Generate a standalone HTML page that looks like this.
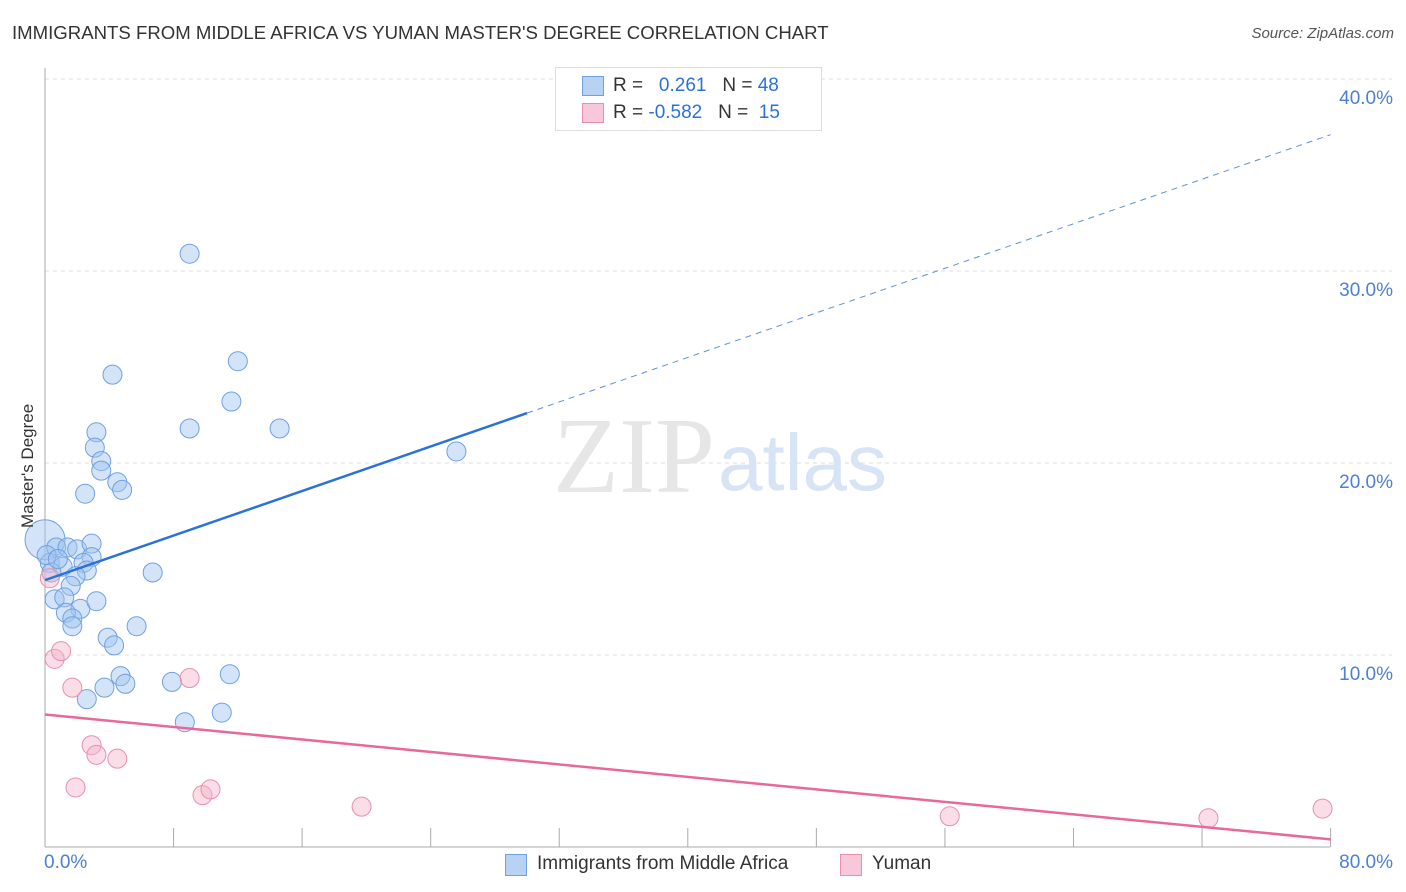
<!DOCTYPE html>
<html><head><meta charset="utf-8"><style>
body{margin:0;background:#fff;font-family:"Liberation Sans",sans-serif;}
#wrap{position:relative;width:1406px;height:892px;overflow:hidden}
.t{position:absolute;white-space:nowrap}
</style></head><body><div id="wrap">
<div class="t" style="left:12px;top:22px;font-size:18.6px;color:#333">IMMIGRANTS FROM MIDDLE AFRICA VS YUMAN MASTER'S DEGREE CORRELATION CHART</div>
<div class="t" style="right:12px;top:25px;font-size:15px;color:#555;font-style:italic">Source: ZipAtlas.com</div>
<svg id="svg" width="1406" height="892" style="position:absolute;left:0;top:0"></svg>
</div>
<script>
const blueX=[9.0,4.2,12.0,11.6,9.0,14.6,25.6,3.2,3.1,3.5,3.5,4.5,4.8,2.5,0,0.7,1.4,2.0,2.9,2.9,0.3,1.1,2.4,2.6,0.4,1.9,1.6,6.7,0.6,1.2,2.2,1.3,3.2,1.7,1.7,5.7,3.9,4.3,4.7,5.0,3.7,2.6,7.9,11.5,8.7,11.0,0.1,0.8];
const blueY=[30.9,24.6,25.3,23.2,21.8,21.8,20.6,21.6,20.8,20.1,19.6,19.0,18.6,18.4,16.0,15.6,15.6,15.5,15.8,15.1,14.8,14.6,14.8,14.4,14.3,14.1,13.6,14.3,12.9,13.0,12.4,12.2,12.8,11.9,11.5,11.5,10.9,10.5,8.9,8.5,8.3,7.7,8.6,9.0,6.5,7.0,15.2,15.0];
const pinkX=[0.6,1.0,1.7,9.0,2.9,3.2,4.5,1.9,9.8,10.3,19.7,56.3,72.4,79.5,0.3];
const pinkY=[9.8,10.2,8.3,8.8,5.3,4.8,4.6,3.1,2.7,3.0,2.1,1.6,1.5,2.0,14.0];
const yTicks=[10,20,30,40];
const blueTrend=[13.9,37.1]; const pinkTrend=[6.9,0.4];
const X=v=>45+v*16.07, Y=v=>847-v*19.2;
const svg=document.getElementById('svg');const NS='http://www.w3.org/2000/svg';
function mk(t,a){const e=document.createElementNS(NS,t);for(const k in a)e.setAttribute(k,a[k]);svg.appendChild(e);return e;}
yTicks.forEach(v=>{const g=mk('line',{x1:45,x2:1392,y1:Y(v),y2:Y(v),stroke:'#ddd','stroke-dasharray':'4,4'});


const t=mk('text',{x:1393,y:Y(v)+25,'text-anchor':'end','font-size':19,fill:'#4a80d8','font-family':'Liberation Sans'});t.textContent=v.toFixed(1)+'%';

});
let ax=mk('line',{x1:45,x2:45,y1:68,y2:847,stroke:'#aaa'});
ax=mk('line',{x1:45,x2:1330,y1:847,y2:847,stroke:'#aaa'});
for(let i=1;i<=10;i++){const l=mk('line',{x1:X(i*8),x2:X(i*8),y1:828,y2:847,stroke:'#aaa'});}
let wm=mk('text',{x:553,y:492,'font-size':108,fill:'#e6e6e6','font-family':'Liberation Serif'});wm.textContent='ZIP';
wm=mk('text',{x:718,y:490,'font-size':80,fill:'#d6e4f6','font-family':'Liberation Sans'});wm.textContent='atlas';
blueX.forEach((x,i)=>{const c=mk('circle',{cx:X(x),cy:Y(blueY[i]),r:i==14?20:9.5,fill:'rgba(160,196,240,0.45)',stroke:'#6fa0e0','stroke-width':1});

});
pinkX.forEach((x,i)=>{const c=mk('circle',{cx:X(x),cy:Y(pinkY[i]),r:9.5,fill:'rgba(245,180,200,0.45)',stroke:'#e890ab','stroke-width':1});

});
const bAt=x=>blueTrend[0]+(blueTrend[1]-blueTrend[0])*x/80;
let l=mk('line',{x1:X(0),y1:Y(bAt(0)),x2:X(30),y2:Y(bAt(30)),stroke:'#2a72d8','stroke-width':2.5});
l=mk('line',{x1:X(30),y1:Y(bAt(30)),x2:X(80),y2:Y(bAt(80)),stroke:'#5a90dc','stroke-width':1,'stroke-dasharray':'6,5'});
l=mk('line',{x1:X(0),y1:Y(pinkTrend[0]),x2:X(80),y2:Y(pinkTrend[1]),stroke:'#e8689a','stroke-width':2.5});
</script>
<div class="t" style="left:44px;top:852px;font-size:19px;color:#4a80d8">0.0%</div>
<div class="t" style="right:13px;top:852px;font-size:19px;color:#4a80d8">80.0%</div>
<div class="t" style="font-size:17px;color:#333;transform:rotate(-90deg);transform-origin:left top;top:528px;left:18px">Master's Degree</div>
<div style="position:absolute;left:555px;top:67px;width:265px;height:62px;border:1px solid #ddd;background:#fff">
<div class="t" style="left:26px;top:8px;width:20px;height:18px;background:#b8d2f4;border:1px solid #6fa0e0"></div>
<div class="t" style="left:26px;top:35px;width:20px;height:18px;background:#f8c8d8;border:1px solid #e890ab"></div>
<div class="t" style="left:57px;top:7px;font-size:19px;color:#333">R = <span style="color:#2a72d8">&nbsp;&nbsp;0.261</span>&nbsp;&nbsp;&nbsp;N = <span style="color:#2a72d8">48</span></div>
<div class="t" style="left:57px;top:34px;font-size:19px;color:#333">R = <span style="color:#2a72d8">-0.582</span>&nbsp;&nbsp;&nbsp;N = <span style="color:#2a72d8">&nbsp;15</span></div>
</div>
<div class="t" style="left:505px;top:854px;width:20px;height:20px;background:#b8d2f4;border:1px solid #6fa0e0"></div>
<div class="t" style="left:537px;top:853px;font-size:19px;color:#333">Immigrants from Middle Africa</div>
<div class="t" style="left:840px;top:854px;width:20px;height:20px;background:#f8c8d8;border:1px solid #e890ab"></div>
<div class="t" style="left:872px;top:853px;font-size:19px;color:#333">Yuman</div>
</body></html>
